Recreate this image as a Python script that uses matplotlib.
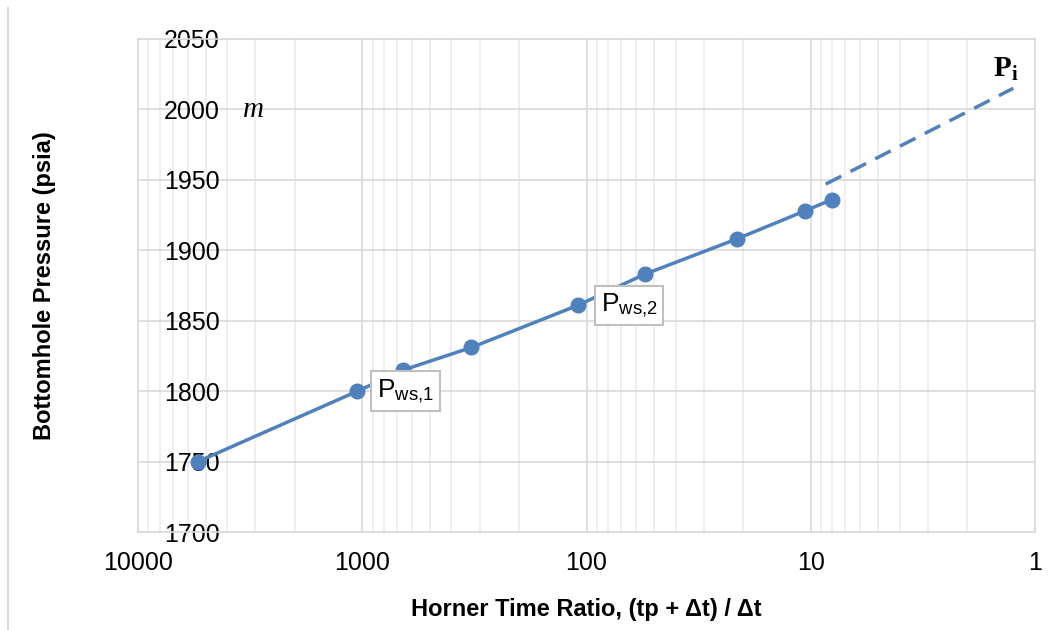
import matplotlib.pyplot as plt
from matplotlib.lines import Line2D
from matplotlib.ticker import LogLocator, FixedLocator, NullFormatter

plt.rcParams['font.family'] = ['Liberation Sans', 'DejaVu Sans']
plt.rcParams['mathtext.fontset'] = 'custom'
plt.rcParams['mathtext.rm'] = 'Liberation Serif'
plt.rcParams['mathtext.it'] = 'Liberation Serif:italic'
plt.rcParams['mathtext.bf'] = 'Liberation Serif:bold'
plt.rcParams['mathtext.sf'] = 'Liberation Sans'

# Horner buildup data
horner_ratio = [5400, 1050, 656, 326, 109, 55, 21.4, 10.6, 8.05]
pressure = [1750, 1800, 1815, 1831, 1861, 1883, 1908, 1928, 1936]

# extrapolation of the straight-line section to Pi
extrap_ratio = [8.57, 1.25]
extrap_pressure = [1947, 2015]

y_ticks = [1700, 1750, 1800, 1850, 1900, 1950, 2000, 2050]
x_ticks = [10000, 1000, 100, 10, 1]
x_labels = ['10000', '1000', '100', '10', '1']

blue = '#4f81bd'
major_grid = '#d9d9d9'
minor_grid = '#ececec'

fig = plt.figure(figsize=(10.63, 6.30), dpi=100)
ax = fig.add_axes([138 / 1063, 1 - 532 / 630, (1035 - 138) / 1063, (532 - 39) / 630])

ax.set_xscale('log')
ax.set_xlim(10000, 1)
ax.set_ylim(1700, 2050)

ax.plot(horner_ratio, pressure, color=blue, lw=2.5, marker='o', ms=10.5,
        zorder=3, clip_on=False)
ax.plot(extrap_ratio, extrap_pressure, color=blue, lw=2.5, ls=(0, (5, 3)),
        zorder=3)

# ticks and grid
ax.xaxis.set_major_locator(FixedLocator(x_ticks))
ax.set_xticklabels(x_labels)
ax.xaxis.set_minor_locator(LogLocator(base=10, subs=range(2, 10)))
ax.xaxis.set_minor_formatter(NullFormatter())
ax.set_yticks(y_ticks)
ax.grid(True, which='major', color=major_grid, lw=1.2)
ax.grid(True, which='minor', axis='x', color=minor_grid, lw=1.2)
ax.set_axisbelow(True)
ax.tick_params(axis='both', which='both', length=0, labelsize=18)
ax.tick_params(axis='x', pad=14)
ax.tick_params(axis='y', pad=-59)
for t in ax.get_yticklabels():
    t.set_zorder(5)
for s in ax.spines.values():
    s.set_color(major_grid)
    s.set_linewidth(1.2)

ax.set_xlabel('Horner Time Ratio, (tp + Δt) / Δt', fontsize=17,
              fontweight='bold', labelpad=16)
ax.set_ylabel('Bottomhole Pressure (psia)', fontsize=17, fontweight='bold',
              labelpad=59)

# annotations
box = dict(boxstyle='square,pad=0.22', fc='white', ec='#bfbfbf', lw=1.5)
ax.text(857, 1800, r'P$_{\mathsf{ws{,}1}}$', fontsize=19, ha='left',
        va='center', bbox=box, zorder=4)
ax.text(86.6, 1861, r'P$_{\mathsf{ws{,}2}}$', fontsize=19, ha='left',
        va='center', bbox=box, zorder=4)
ax.text(3070, 2000, r'$m$', fontsize=21, ha='center', va='center')
ax.text(1.35, 2019, r'$\mathbf{P}_{\mathbf{i}}$', fontsize=21, ha='center',
        va='bottom')

# outer border line along the left side
fig.add_artist(Line2D([8 / 1063, 8 / 1063], [0, 1 - 8 / 630],
                      color=major_grid, lw=1.5))

fig.savefig('out.png', dpi=100)
